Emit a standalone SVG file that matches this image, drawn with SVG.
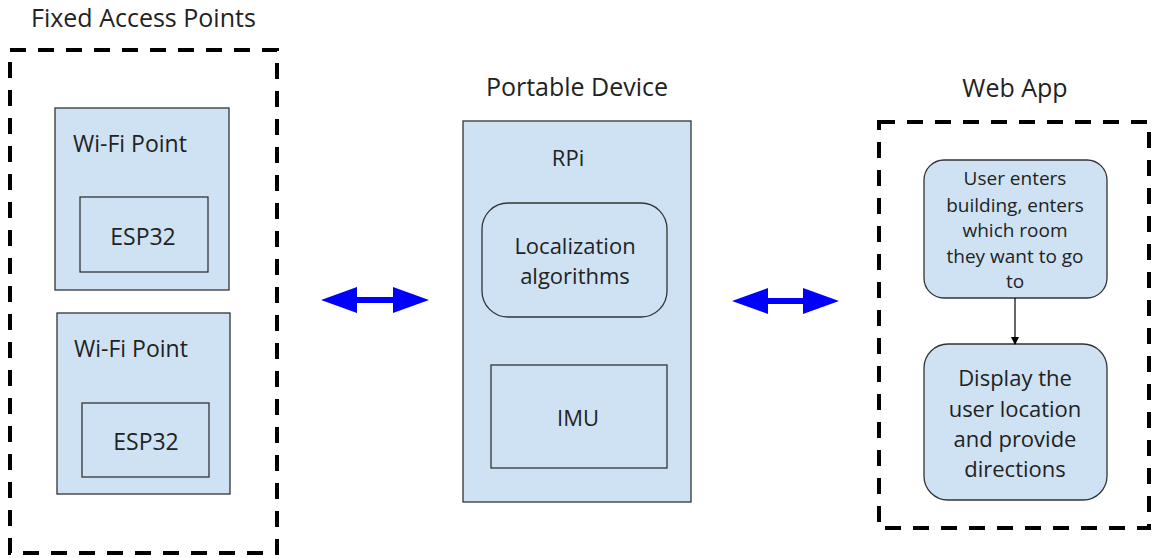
<svg xmlns="http://www.w3.org/2000/svg" width="1153" height="558" viewBox="0 0 1153 558">
<style>
text{font-family:"Open Sans","Liberation Sans",sans-serif;fill:#222;}
.t{font-size:25px;}
.s{font-size:19px;}
.m{font-size:22px;}
.w{font-size:23px;}
.box{fill:#cfe2f3;stroke:#333;stroke-width:1.3;}
.dash{fill:none;stroke:#000;stroke-width:4;stroke-dasharray:16 12;}
.arr{fill:#0000ff;}
</style>
<defs>
<marker id="ah" markerWidth="8" markerHeight="8" refX="7" refY="4" orient="auto" markerUnits="userSpaceOnUse">
<path d="M0,0 L8,4 L0,8 Z" fill="#000"/>
</marker>
</defs>
<rect width="1153" height="558" fill="#fff"/>

<g id="fixed-access-points">
<text class="t" x="31" y="27">Fixed Access Points</text>
<rect class="dash" x="10" y="50" width="267" height="503"/>
</g>
<g id="wifi1">
<rect class="box" x="55" y="108" width="174" height="182"/>
<text class="w" x="73" y="152">Wi-Fi Point</text>
</g>
<g id="esp1">
<rect class="box" x="80" y="197" width="128" height="75"/>
<text class="w" x="143" y="245" text-anchor="middle">ESP32</text>
</g>
<g id="wifi2">
<rect class="box" x="57" y="313" width="173" height="181"/>
<text class="w" x="74" y="357">Wi-Fi Point</text>
</g>
<g id="esp2">
<rect class="box" x="82" y="403" width="127" height="74"/>
<text class="w" x="146" y="450" text-anchor="middle">ESP32</text>
</g>

<g id="portable-device">
<text class="t" x="577" y="96" text-anchor="middle">Portable Device</text>
</g>
<g id="rpi">
<rect class="box" x="463" y="121" width="228" height="381"/>
<text class="m" x="568" y="166" text-anchor="middle">RPi</text>
</g>
<g id="localization">
<rect class="box" x="482" y="203" width="185" height="114" rx="26"/>
<text class="m" x="575" y="254" text-anchor="middle">Localization</text>
<text class="m" x="575" y="284" text-anchor="middle">algorithms</text>
</g>
<g id="imu">
<rect class="box" x="491" y="365" width="176" height="103"/>
<text class="m" x="578" y="426" text-anchor="middle">IMU</text>
</g>

<g id="web-app">
<text class="t" x="1015" y="97" text-anchor="middle">Web App</text>
<rect class="dash" x="879" y="122" width="270" height="406"/>
</g>
<g id="user-enters">
<rect class="box" x="924" y="160" width="183" height="138" rx="20"/>
<text class="s" x="1015" y="185" text-anchor="middle">User enters</text>
<text class="s" x="1015" y="212" text-anchor="middle">building, enters</text>
<text class="s" x="1015" y="237" text-anchor="middle">which room</text>
<text class="s" x="1015" y="263" text-anchor="middle">they want to go</text>
<text class="s" x="1015" y="288" text-anchor="middle">to</text>
</g>
<g id="display">
<rect class="box" x="924" y="344" width="183" height="156" rx="24"/>
<text class="m" x="1015" y="386" text-anchor="middle">Display the</text>
<text class="m" x="1015" y="417" text-anchor="middle">user location</text>
<text class="m" x="1015" y="447" text-anchor="middle">and provide</text>
<text class="m" x="1015" y="477" text-anchor="middle">directions</text>
</g>

<g id="connectors">
<path class="arr" d="M321,300 L357,287 L357,297 L393,297 L393,287 L429,300 L393,313 L393,303 L357,303 L357,313 Z"/>
<path class="arr" d="M732,301 L768,288 L768,298 L803,298 L803,288 L839,301 L803,314 L803,304 L768,304 L768,314 Z"/>
<line x1="1015" y1="298" x2="1015" y2="344" stroke="#000" stroke-width="1.2" marker-end="url(#ah)"/>
</g>
</svg>
